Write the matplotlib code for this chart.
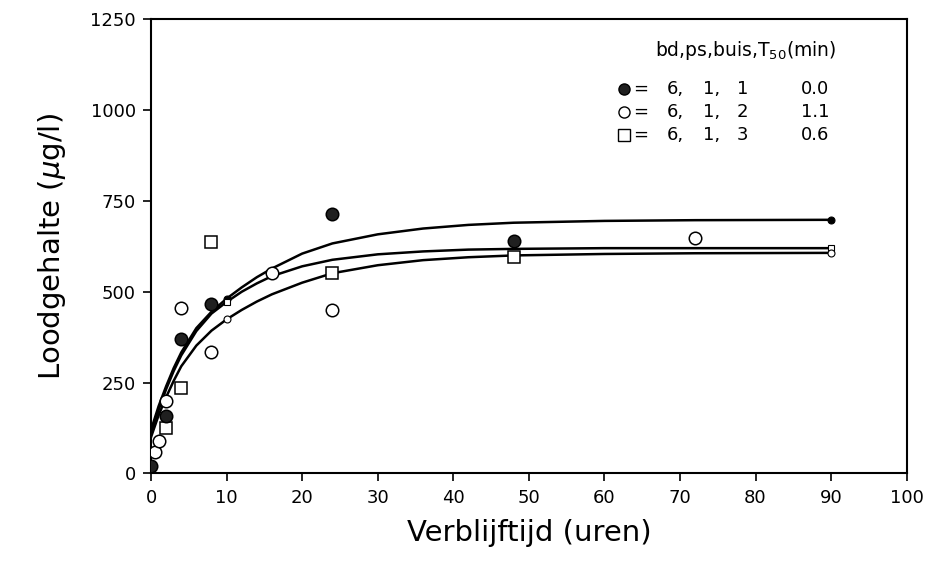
import matplotlib
matplotlib.use('Agg')
from matplotlib import pyplot as plt

# measured lead content per pipe setting (bd, ps, buis)
t_111 = [0, 2, 4, 8, 24, 48]
pb_111 = [20, 158, 371, 466, 713, 640]

t_112 = [0.5, 1, 2, 4, 8, 16, 24, 72]
pb_112 = [58, 90, 199, 454, 334, 551, 451, 647]

t_113 = [2, 4, 8, 24, 48]
pb_113 = [125, 236, 637, 551, 595]

# fitted curves, read at fixed times
t_fit = [0, 1, 2, 3, 4, 6, 8, 10, 12, 14, 16, 20, 24, 30, 36, 42, 48, 60, 72, 90]
fit_111 = [120, 185, 240, 290, 333, 400, 445, 481, 512, 540, 564, 605, 633, 658, 674, 684, 690, 695, 697, 698]
fit_113 = [110, 175, 232, 282, 325, 392, 440, 472, 500, 523, 543, 570, 588, 603, 611, 616, 618, 620, 620, 620]
fit_112 = [100, 160, 210, 255, 295, 352, 393, 424, 450, 473, 493, 525, 551, 573, 587, 595, 600, 604, 606, 607]

legend_rows = [('6,', '1,', '1', '0.0'), ('6,', '1,', '2', '1.1'), ('6,', '1,', '3', '0.6')]

plt.rcParams['font.family'] = ['DejaVu Sans']

fig = plt.figure(figsize=(9.34, 5.65), dpi=100)
ax = fig.add_axes([0.1617, 0.162, 0.809, 0.804])

# the three fit lines, with small symbols at 10 h and at the end
ax.plot(t_fit, fit_111, '-', color='black', lw=1.8, zorder=2)
ax.plot(t_fit, fit_113, '-', color='black', lw=1.8, zorder=2)
ax.plot(t_fit, fit_112, '-', color='black', lw=1.8, zorder=2)
ends = [t_fit.index(10), len(t_fit) - 1]
ax.plot([t_fit[i] for i in ends], [fit_111[i] for i in ends], 'o', ms=5,
        mfc='black', mec='black', mew=0.8, zorder=3)
ax.plot([t_fit[i] for i in ends], [fit_113[i] for i in ends], 's', ms=5,
        mfc='white', mec='black', mew=0.8, zorder=3)
ax.plot([t_fit[i] for i in ends], [fit_112[i] for i in ends], 'o', ms=5,
        mfc='white', mec='black', mew=0.8, zorder=3)

# measurements
ax.plot(t_112, pb_112, 'o', ms=9, mfc='white', mec='black', mew=1.1, zorder=4)
ax.plot(t_113, pb_113, 's', ms=9, mfc='white', mec='black', mew=1.1, zorder=4)
ax.plot(t_111, pb_111, 'o', ms=9, mfc='#202020', mec='black', mew=1.1, zorder=5)

ax.set_xlim(0, 100)
ax.set_ylim(0, 1250)
ax.set_xticks(range(0, 101, 10))
ax.set_yticks(range(0, 1251, 250))
ax.tick_params(direction='out', length=6, width=1.2, labelsize=13, pad=5)
for sp in ax.spines.values():
    sp.set_linewidth(1.5)

ax.set_xlabel('Verblijftijd (uren)', fontsize=21, labelpad=9)
ax.set_ylabel(r'Loodgehalte ($\mu$g/l)', fontsize=21, labelpad=16)

# key in the upper right corner
ax.text(0.667, 0.932, r'bd,ps,buis,T$_{\mathregular{50}}$(min)', transform=ax.transAxes,
        fontsize=13.5, ha='left', va='center')
styles = [dict(marker='o', mfc='#202020'), dict(marker='o', mfc='white'),
          dict(marker='s', mfc='white')]
for i, (row, st) in enumerate(zip(legend_rows, styles)):
    y = 0.846 - i * 0.0505
    ax.plot([0.626], [y], transform=ax.transAxes, ls='none', ms=8, mec='black',
            mew=1.0, clip_on=False, **st)
    ax.text(0.638, y, '=', transform=ax.transAxes, fontsize=13, va='center')
    ax.text(0.683, y, row[0], transform=ax.transAxes, fontsize=13, va='center')
    ax.text(0.730, y, row[1], transform=ax.transAxes, fontsize=13, va='center')
    ax.text(0.775, y, row[2], transform=ax.transAxes, fontsize=13, va='center')
    ax.text(0.898, y, row[3], transform=ax.transAxes, fontsize=13, va='center', ha='right')

plt.savefig('out.png', dpi=100)
plt.close()
